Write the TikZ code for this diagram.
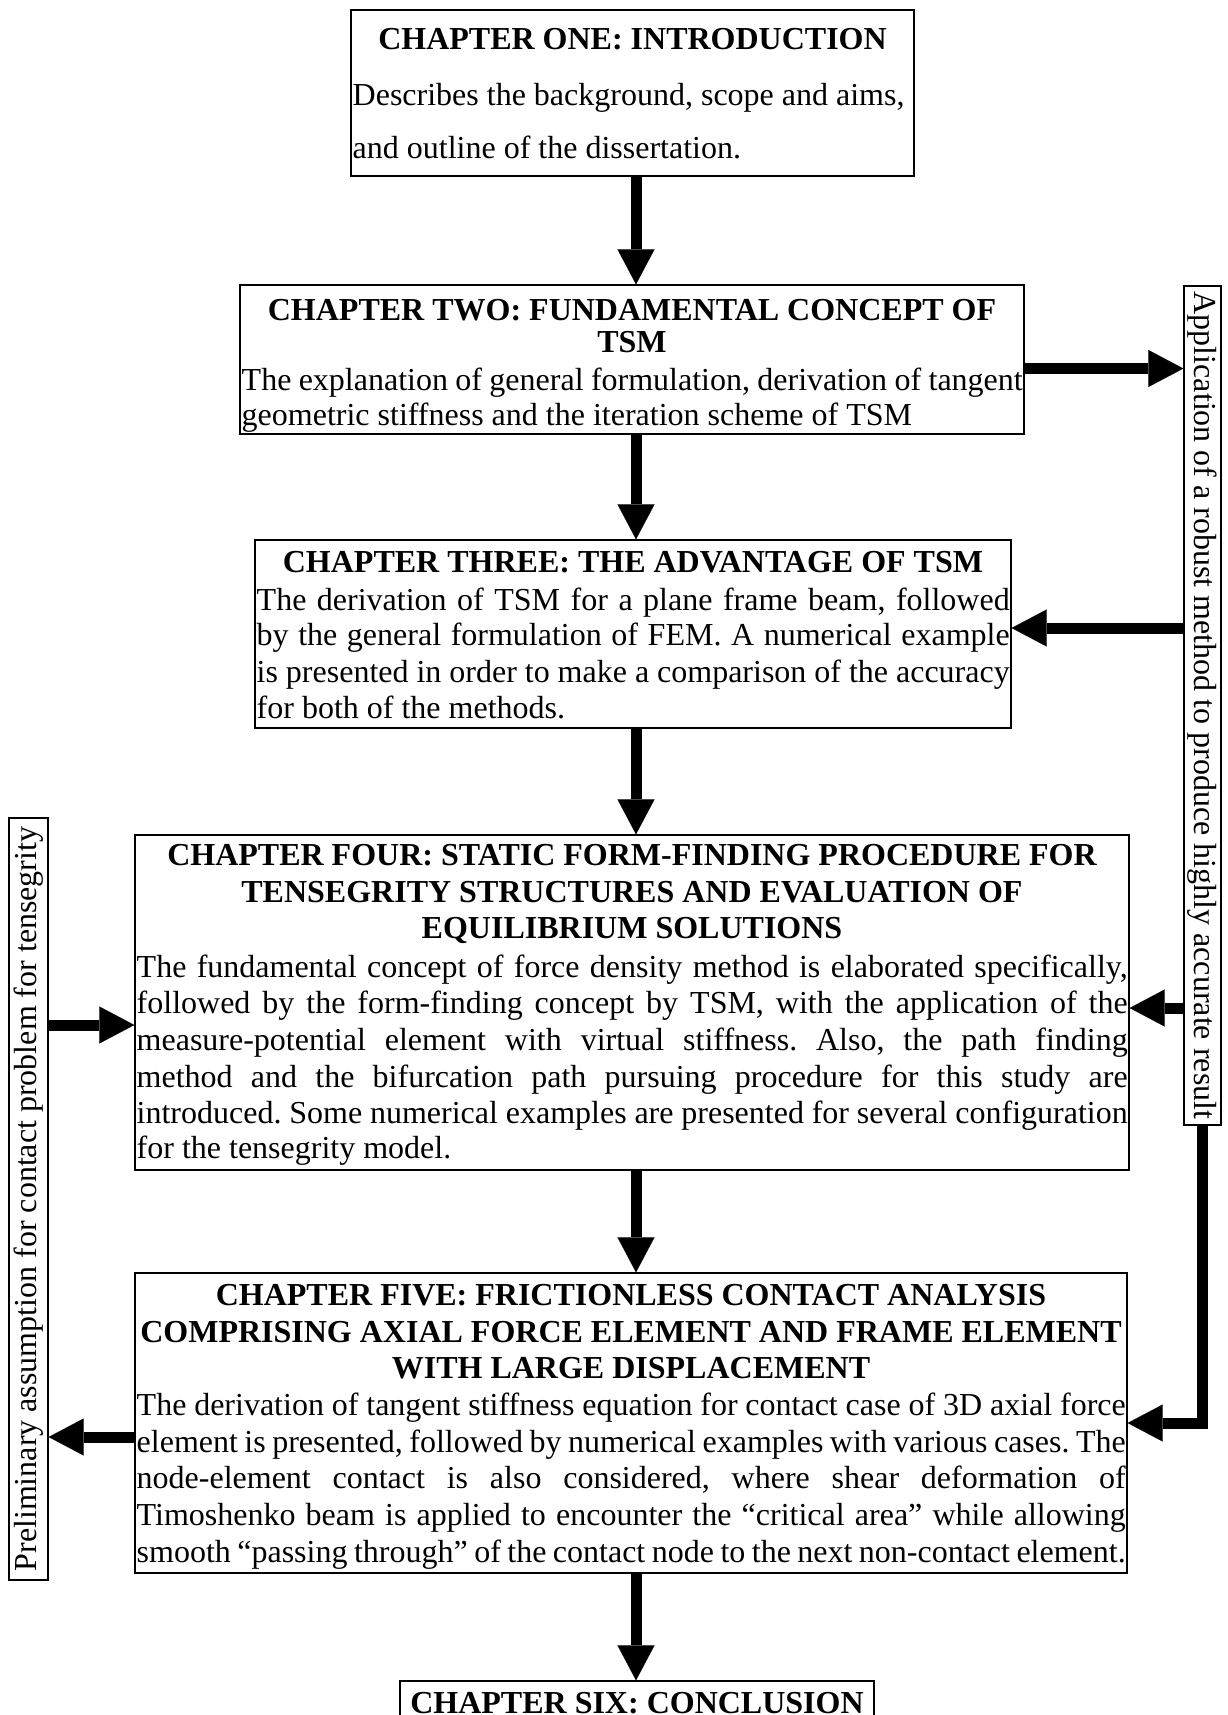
\documentclass[tikz,border=0pt]{standalone}
\usepackage{fontspec}
\setmainfont{Liberation Serif}
\usetikzlibrary{arrows.meta}
\frenchspacing
\newcommand\JL[2]{\hbox to #1pt{#2}}
\begin{document}
\begin{tikzpicture}[x=1pt,y=-1pt,
  box/.style={draw, line width=1.3pt, inner sep=0pt, fill=none},
  tt/.style={font=\fontsize{32}{37}\selectfont\bfseries, inner sep=0pt, anchor=base},
  tl/.style={font=\fontsize{32}{37}\selectfont, inner sep=0pt, anchor=base west},
  side/.style={draw, line width=1.3pt, inner sep=0pt, font=\fontsize{32}{37}\selectfont},
  big/.style={line width=11pt, -{Triangle[length=35pt,width=37pt,line width=0.1pt]}}]
\useasboundingbox (0,0) rectangle (1227,1715);
\fill[white] (0,0) rectangle (1227,1715);
\coordinate (ax) at (636,0);
% boxes
\node[box, minimum width=563pt, minimum height=166pt] (c1) at (632.5,93) {};
\node[box, minimum width=784pt, minimum height=149pt] (c2) at (632,359.5) {};
\node[box, minimum width=756pt, minimum height=188pt] (c3) at (633,634) {};
\node[box, minimum width=994pt, minimum height=335pt] (c4) at (632,1002.5) {};
\node[box, minimum width=992pt, minimum height=300pt] (c5) at (631,1423) {};
\node[box, minimum width=474pt, minimum height=59pt] (c6) at (637,1710.5) {};
\node[side, rotate=-90, minimum width=839pt, minimum height=37pt] (ra) at (1202.5,705.5)
  {Application of a robust method to produce highly accurate result};
\node[side, rotate=90, minimum width=762pt, minimum height=39pt] (pl) at (28.5,1199)
  {Preliminary assumption for contact problem for tensegrity};
% chapter one
\node[tt] (t1) at (632.5,50) {CHAPTER ONE: INTRODUCTION};
\node[tl] (b1a) at (352.5,106) {Describes the background, scope and aims,};
\node[tl] (b1b) at (352.5,159) {and outline of the dissertation.};
% chapter two
\node[tt] (t2a) at (632,320) {CHAPTER TWO: FUNDAMENTAL CONCEPT OF};
\node[tt] (t2b) at (632,352) {TSM};
\node[tl] (b2a) at (241.5,390) {\JL{781}{The explanation of general formulation, derivation of tangent}};
\node[tl] (b2b) at (241.5,425) {geometric stiffness and the iteration scheme of TSM};
% chapter three
\node[tt] (t3) at (633,572) {CHAPTER THREE: THE ADVANTAGE OF TSM};
\node[tl] (b3a) at (256.5,610) {\JL{753}{The derivation of TSM for a plane frame beam, followed}};
\node[tl] (b3b) at (256.5,645) {\JL{753}{by the general formulation of FEM. A numerical example}};
\node[tl] (b3c) at (256.5,682) {\JL{753}{is presented in order to make a comparison of the accuracy}};
\node[tl] (b3d) at (256.5,718) {for both of the methods.};
% chapter four
\node[tt] (t4a) at (632,865) {CHAPTER FOUR: STATIC FORM-FINDING PROCEDURE FOR};
\node[tt] (t4b) at (632,902) {TENSEGRITY STRUCTURES AND EVALUATION OF};
\node[tt] (t4c) at (632,938) {EQUILIBRIUM SOLUTIONS};
\node[tl] (b4a) at (136.5,977) {\JL{991}{The fundamental concept of force density method is elaborated specifically,}};
\node[tl] (b4b) at (136.5,1013) {\JL{991}{followed by the form-finding concept by TSM, with the application of the}};
\node[tl] (b4c) at (136.5,1050) {\JL{991}{measure-potential element with virtual stiffness. Also, the path finding}};
\node[tl] (b4d) at (136.5,1087) {\JL{991}{method and the bifurcation path pursuing procedure for this study are}};
\node[tl] (b4e) at (136.5,1123) {\JL{991}{introduced. Some numerical examples are presented for several configuration}};
\node[tl] (b4f) at (136.5,1158) {for the tensegrity model.};
% chapter five
\node[tt] (t5a) at (631,1305) {CHAPTER FIVE: FRICTIONLESS CONTACT ANALYSIS};
\node[tt] (t5b) at (631,1342) {COMPRISING AXIAL FORCE ELEMENT AND FRAME ELEMENT};
\node[tt] (t5c) at (631,1378) {WITH LARGE DISPLACEMENT};
\node[tl] (b5a) at (136.5,1415) {\JL{989}{The derivation of tangent stiffness equation for contact case of 3D axial force}};
\node[tl] (b5b) at (136.5,1452) {\JL{989}{element is presented, followed by numerical examples with various cases. The}};
\node[tl] (b5c) at (136.5,1488) {\JL{989}{node-element contact is also considered, where shear deformation of}};
\node[tl] (b5d) at (136.5,1525) {\JL{989}{Timoshenko beam is applied to encounter the “critical area” while allowing}};
\node[tl] (b5e) at (136.5,1562) {\JL{989}{smooth “passing through” of the contact node to the next non-contact element.}};
% chapter six
\node[tt] (t6) at (637,1713) {CHAPTER SIX: CONCLUSION};
% connectors
\draw[big] (c1.south -| ax) -- (c2.north -| ax);
\draw[big] (c2.south -| ax) -- (c3.north -| ax);
\draw[big] (c3.south -| ax) -- (c4.north -| ax);
\draw[big] (c4.south -| ax) -- (c5.north -| ax);
\draw[big] (c5.south -| ax) -- (c6.north -| ax);
\draw[big] ([yshift=-9pt]c2.east) -- ([yshift=-9pt]c2.east -| ra.south);
\draw[big] ([yshift=6pt]c3.east -| ra.south) -- ([yshift=6pt]c3.east);
\draw[big] ([yshift=-5.5pt]c4.east -| ra.south) -- ([yshift=-5.5pt]c4.east);
\draw[big] (ra.east) |- (c5.east);
\draw[big] ([yshift=-22.5pt]c4.west -| pl.south) -- ([yshift=-22.5pt]c4.west);
\draw[big] ([yshift=-14pt]c5.west) -- ([yshift=-14pt]c5.west -| pl.south);
\end{tikzpicture}
\end{document}
